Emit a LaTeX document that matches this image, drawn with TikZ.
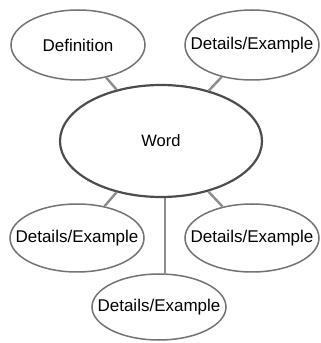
\documentclass[tikz,border=0pt]{standalone}
\usepackage{fontspec}
\setmainfont{Liberation Sans}
\usetikzlibrary{shapes.geometric}
\begin{document}
\begin{tikzpicture}[x=1pt,y=1pt,
  bubble/.style={ellipse, draw=black!55, line width=1.5pt, inner sep=0pt,
    minimum width=134pt,
    label={[font=\fontsize{17}{20}\selectfont, inner sep=0pt]center:#1}},
  hub/.style={ellipse, draw=black!70, line width=2.2pt, inner sep=0pt,
    minimum width=202pt, minimum height=112pt,
    label={[font=\fontsize{16.5}{20}\selectfont, inner sep=0pt]center:#1}},
  link/.style={draw=black!45, line width=2.4pt}]
\useasboundingbox (0,0) rectangle (321,343);
\node[bubble=Definition, minimum height=70pt] (def) at (78,298) {};
\node[bubble=Details/Example, minimum height=70pt] (tr) at (252,298) {};
\node[hub=Word] (word) at (161,202) {};
\node[bubble=Details/Example, minimum height=68pt] (bl) at (77,105) {};
\node[bubble=Details/Example, minimum height=68pt] (br) at (252,105) {};
\node[bubble=Details/Example, minimum height=66pt] (bc) at (159,36) {};
\draw[link] (def) -- (word);
\draw[link] (tr) -- (word);
\draw[link] (bl) -- (word);
\draw[link] (br) -- (word);
\draw[link] ([xshift=4pt]word.south) -- ([xshift=4pt]word.south |- bc.north);
\end{tikzpicture}
\end{document}
